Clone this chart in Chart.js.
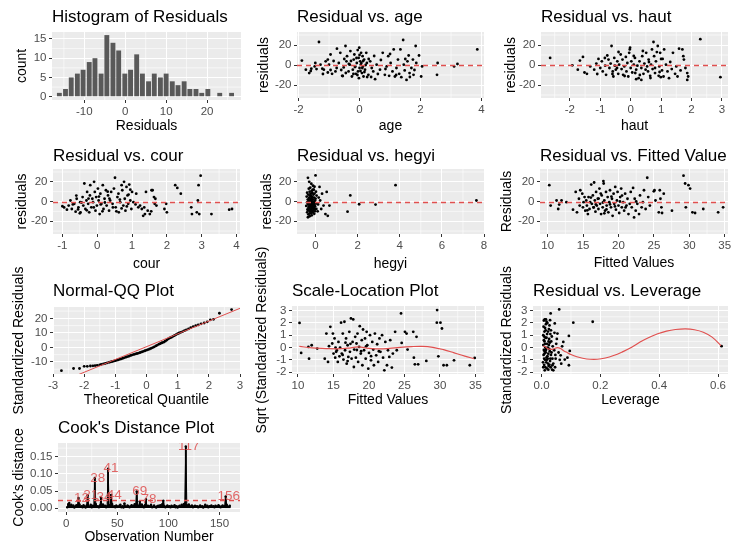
<!DOCTYPE html>
<html>
<head>
<meta charset="utf-8">
<title>Regression diagnostics</title>
<script src="https://cdn.jsdelivr.net/npm/chart.js@4.4.0/dist/chart.umd.min.js"></script>
<style>
  html, body { margin: 0; padding: 0; background: #fff; }
  body { position: relative; width: 732px; height: 546px; overflow: hidden; }
</style>
</head>
<body>
<script>
// ---- data ----------------------------------------------------------------

// Histogram of residuals (30 bins)
const binMids = [-16.1, -14.6, -13.2, -11.7, -10.3, -8.8, -7.4, -5.9, -4.5, -3.0, -1.6, -0.1, 1.3, 2.8, 4.2,
                 5.7, 7.1, 8.6, 10.0, 11.5, 12.9, 14.4, 15.8, 17.3, 18.7, 20.2, 21.6, 23.1, 24.5, 26.0];
const binCounts = [1, 2, 5, 6, 7, 9, 10, 6, 16, 14, 12, 6, 7, 11, 6, 4, 6, 5, 6, 4, 3, 4, 2, 2, 1, 2, 0, 1, 0, 1];

// Residuals against each predictor: [predictor, residual]
const ageResid = [[-1.33,23],[-1.89,4.4],[-1.76,-4.7],[-1.65,-8.1],[-1.58,-3.7],[-1.47,-1.4],[-1.41,-4.1],[-1.28,0.3],
  [-1.22,-3.7],[-1.17,-4.7],[-1.11,3.7],[-1.04,5.4],[-1.0,0.3],[-0.95,10.5],[-1.04,-7.5],[-0.9,-8.8],[-0.79,-6.4],
  [-0.74,16.3],[-0.68,2],[-0.63,12.2],[-0.57,-10.8],[-0.52,-2.4],[-0.46,19],[-0.43,3.7],[-0.41,8.8],[-0.36,-6.4],
  [-0.32,0.3],[-0.3,13.9],[-0.25,-11.5],[-0.22,-4.7],[-0.19,5.4],[-0.17,10.5],[-0.14,-1.4],[-0.12,-8.8],[-0.09,2],
  [-0.06,14.9],[-0.05,-6.4],[-0.03,7.1],[-0.02,-13.2],[-0.01,17.3],[0,-3],[0.02,3.7],[0.04,0.3],[0.05,12.2],
  [0.08,-8.1],[0.1,8.8],[0.11,-1.4],[0.13,-11.5],[0.15,5.4],[0.18,-4.7],[0.22,12.2],[0.24,2],[0.29,-9.8],[0.35,3.7],
  [0.4,-3],[0.45,-6.4],[0.51,-14.2],[0.56,0.3],[0.67,-4.7],[0.76,12.2],[0.83,-9.8],[0.89,-1.4],[0.94,8.8],[0.97,-10.8],
  [1.02,2],[1.08,-6.4],[1.12,15.6],[1.16,-11.5],[1.21,-3],[1.26,5.4],[1.3,-8.8],[1.34,15.6],[1.37,-12.2],[1.43,25],
  [1.45,0.3],[1.48,-5.4],[1.54,-14.9],[1.57,3.7],[1.61,9.5],[1.64,-8.1],[1.7,-3],[1.75,5.4],[1.77,-9.8],[1.84,19],
  [1.86,2],[1.95,9.5],[2.02,-11.5],[2.05,-1.4],[2.56,2],[2.54,-9.8],[3.1,-1.4],[3.21,1],[3.86,15.6],
  [-0.6,-5],[-0.5,6],[-0.45,-8],[-0.35,1],[-0.28,4],[-0.2,-9],[-0.15,-2],[-0.1,7],[-0.07,-10],[0.0,10],[0.03,-6],
  [0.06,2],[0.09,-3],[0.12,4],[0.16,-7],[0.2,0],[0.25,-12],[0.3,6],[-0.55,-11],[-0.75,-3],[-0.85,4],[0.6,-9],[0.7,5],
  [0.85,-4],[1.0,11],[1.2,-10],[1.5,6],[1.65,-12],[1.8,-5],[-1.6,-6],[-1.45,2],[-1.2,-9],[-0.95,-5],[0.48,9],[0.38,-12]];

const hautResid = [[-2.65,7.1],[-1.92,-0.3],[-1.74,-4.7],[-1.67,4.4],[-1.57,8.1],[-1.52,-7.5],[-1.44,-8.8],[-1.33,-1.4],
  [-1.2,-4.7],[-1.13,1.4],[-1.06,6.1],[-1.0,-3],[-0.95,3.7],[-0.92,-6.4],[-0.84,-0.7],[-0.81,-9.8],[-0.77,9.5],
  [-0.73,5.4],[-0.7,-3],[-0.66,1.4],[-0.63,19],[-0.59,-6.4],[-0.57,-11.5],[-0.54,7.1],[-0.52,-0.7],[-0.49,-4.7],
  [-0.44,3.7],[-0.41,-8.8],[-0.38,0.3],[-0.33,10.5],[-0.3,-4.1],[-0.27,5.4],[-0.25,-9.8],[-0.21,-1.4],[-0.16,8.1],
  [-0.14,-6.4],[-0.11,2],[-0.08,-11.5],[-0.05,12.2],[-0.03,15.6],[-0.02,17.3],[0,-3],[0.02,3.7],[0.05,-7.5],[0.1,0.3],
  [0.14,7.1],[0.18,-4.7],[0.22,-0.7],[0.26,-13.2],[0.29,3.7],[0.35,-3],[0.38,8.8],[0.42,-8.8],[0.45,1.4],[0.49,-4.7],
  [0.51,12.2],[0.54,-1.4],[0.57,-6.4],[0.59,5.4],[0.64,-10.8],[0.67,0.3],[0.7,15.6],[0.72,-4.1],[0.75,23],[0.77,8.8],
  [0.8,-8.1],[0.83,3.7],[0.86,12.9],[0.89,19],[0.92,-10.8],[0.94,-1.4],[0.97,12.2],[0.99,-12.2],[1.03,-5.4],[1.05,6.1],
  [1.08,-11.5],[1.1,15.6],[1.16,0.3],[1.21,-6.4],[1.26,-13.2],[1.35,-4.1],[1.39,12.2],[1.46,-8.8],[1.5,-1.4],
  [1.54,-11.5],[1.59,16.3],[1.64,-5.4],[1.7,15.6],[1.73,8.8],[1.75,5.4],[1.8,-3],[1.86,-14.9],[1.89,-11.5],[1.86,-8.1],
  [2.29,25.8],[2.95,-12.2],[0.35,-14.9],[0.18,-14.2],
  [-0.6,-9],[-0.4,13],[-0.2,-11],[0.1,9],[0.3,-10],[0.6,3],[0.8,-3],[1.0,6],[-0.85,7],[-1.1,-9],[0.4,14],[0.65,-13],
  [1.3,3],[0.15,-8],[-0.45,-3],[0.95,-7]];

const courResid = [[-1.0,-4.8],[-0.87,-8.3],[-0.82,-4.1],[-0.77,1],[-0.73,-7.6],[-0.66,-2.4],[-0.62,-10.3],[-0.59,2.8],
  [-0.54,-5.9],[-0.49,-0.7],[-0.48,-11],[-0.42,4.5],[-0.4,-4.1],[-0.37,18.3],[-0.34,-7.6],[-0.31,1],[-0.29,9.7],
  [-0.26,-2.4],[-0.23,-11],[-0.21,6.2],[-0.2,16.6],[-0.17,-5.9],[-0.14,2.8],[-0.12,-0.7],[-0.09,20],[-0.07,9.7],
  [-0.05,-9.3],[-0.03,4.5],[-0.01,-4.1],[0.02,13.1],[0.04,1],[0.07,-12.8],[0.09,7.9],[0.12,-2.4],[0.16,16.6],
  [0.18,-7.6],[0.21,2.8],[0.25,11.4],[0.27,-4.1],[0.31,6.2],[0.34,-9.3],[0.37,1],[0.4,9.7],[0.44,-2.4],[0.48,13.1],
  [0.51,24.1],[0.53,-5.9],[0.58,4.5],[0.61,7.9],[0.62,-11],[0.66,-0.7],[0.7,16.6],[0.72,11.4],[0.75,-4.1],[0.77,20],
  [0.79,2.8],[0.81,-9.3],[0.84,14.8],[0.87,6.2],[0.89,-2.4],[0.92,17.2],[0.95,1],[0.98,-7.6],[1.0,9.7],[1.04,-0.7],
  [1.12,7.9],[1.18,-5.9],[1.23,-4.1],[1.28,-7.6],[1.32,-14.5],[1.37,-12.8],[1.4,9.7],[1.45,-9.3],[1.51,-12.8],
  [1.56,11.4],[1.59,11.4],[1.63,4.5],[1.65,-2.4],[1.67,2.8],[1.7,-4.1],[1.93,-7.6],[2.0,-11],[1.98,-2.4],[2.24,16.6],
  [2.3,13.8],[2.4,7.9],[2.7,-5.9],[2.72,-12.8],[2.86,-11],[2.89,1],[2.91,16.6],[2.93,-12.8],[2.97,26.2],[3.28,-12.8],
  [3.79,-8.3],[3.87,-7.6],
  [-0.95,-6],[-0.7,-3],[-0.55,-8],[-0.45,-1],[-0.25,3],[-0.1,-6],[0.05,5],[0.15,-10],[0.22,-1],[0.35,3],[0.45,-6],
  [0.55,-10],[0.65,2],[0.85,-5],[0.9,7],[-0.6,6],[-0.3,-9],[0.1,-3],[0.3,10],[-0.5,-12],[0.7,-7],[1.1,-3],[1.35,-6],
  [1.55,-10],[0.95,12]];

const hegyiResid = [[-0.36,24],[0.0,26.5],[-0.3,20],[-0.2,18],[-0.12,16],[-0.05,15],[-0.25,14],[-0.32,13],[-0.08,12],
  [-0.18,11],[-0.28,10],[0.02,10],[-0.4,9],[-0.15,9],[-0.22,8],[-0.05,8],[-0.35,7],[-0.1,7],[-0.27,6],[0.05,6],
  [-0.17,5],[-0.42,5],[-0.3,4],[-0.07,4],[-0.22,3],[0.0,3],[-0.37,2],[-0.12,2],[-0.26,1],[-0.02,1],[-0.18,0],[-0.33,0],
  [-0.08,-0.5],[-0.4,-1],[-0.23,-1],[-0.14,-1.5],[0.03,-2],[-0.3,-2],[-0.1,-2.5],[-0.2,-3],[-0.36,-3],[-0.05,-3.5],
  [-0.27,-4],[-0.15,-4],[-0.44,-4.5],[-0.02,-5],[-0.24,-5],[-0.12,-5.5],[-0.33,-6],[-0.19,-6],[-0.06,-6.5],[-0.29,-7],
  [-0.16,-7],[0.04,-7.5],[-0.38,-8],[-0.22,-8],[-0.1,-8.5],[-0.31,-9],[-0.17,-9.5],[-0.03,-10],[-0.26,-10],[-0.4,-11],
  [-0.13,-11],[-0.21,-12],[-0.06,-12.5],[-0.34,-13],[-0.18,-14],[-0.28,-15],[-0.36,-16],
  [0.19,14.8],[0.31,7.9],[0.53,9.7],[0.27,-7.6],[0.38,-4.1],[0.47,-12.8],[0.58,-14.5],[0.66,-4.1],[0.12,-3],[0.15,4],
  [0.1,-10],[0.22,1],
  [-0.25,-2],[-0.2,2],[-0.15,-0.5],[-0.3,-5],[-0.1,-4],[-0.22,5.5],[-0.05,-1],[-0.35,-9],[-0.12,12],[-0.27,-12],
  [-0.08,-7],[-0.18,3.5],[-0.32,2.5],[-0.02,-8],[-0.24,7.5],[-0.15,-10.5],
  [1.52,-10.3],[1.65,6.2],[2.07,-2.8],[2.85,-3.1],[3.8,16.6],[7.64,1]];

const fittedResid = [[10.23,16.6],[10.42,-4.1],[11.26,1],[11.49,-7.6],[11.63,-3.1],[11.96,1],[12.65,-0.7],[13.58,-8.3],
  [13.96,9.7],[14.14,-11],[14.42,2.8],[14.52,-4.1],[14.61,11.4],[14.89,7.9],[14.98,-5.9],[15.07,-0.7],[15.21,4.5],
  [15.31,-9.3],[15.45,1],[15.54,-4.1],[15.68,-12.8],[15.77,4.5],[15.91,-7.6],[16.0,-0.7],[16.15,17.2],[16.24,-2.4],
  [16.38,6.2],[16.47,-5.9],[16.56,19.3],[16.66,1],[16.75,-10.3],[16.84,9.7],[16.94,-4.1],[17.08,2.8],[17.17,-7.6],
  [17.31,13.1],[17.4,-2.4],[17.54,-12.8],[17.63,6.2],[17.77,-5.9],[17.87,20.7],[17.91,18.3],[18.0,1],[18.1,-9.3],
  [18.24,9.7],[18.33,-4.1],[18.47,4.5],[18.57,-11],[18.7,-0.7],[18.8,11.4],[18.94,-5.9],[19.08,2.8],[19.17,-14.5],
  [19.31,7.9],[19.4,-2.4],[19.54,14.8],[19.64,-8.3],[19.78,1],[19.87,9.7],[20.0,-4.1],[20.1,-11.7],[20.24,4.5],
  [20.38,13.1],[20.47,-5.9],[20.66,-0.7],[20.8,-9.3],[20.94,7.9],[21.13,-4.1],[21.27,2.8],[21.41,-12.8],[21.59,-2.4],
  [21.73,9.7],[21.87,-5.9],[22.06,13.8],[22.2,-16.2],[22.29,2.8],[22.43,-9.3],[22.66,-2.4],[22.9,-12.8],[23.04,6.2],
  [23.27,-5.9],[23.45,-0.7],[23.6,11.4],[23.83,-7.6],[24.06,24.1],[24.2,4.5],[24.43,-4.1],[24.99,10.3],[25.08,11.4],
  [25.22,1],[25.69,-11],[25.83,11.4],[25.92,2.8],[26.06,-5.9],[26.15,-11.7],[26.39,7.9],[27.55,-9.3],[29.18,26.2],
  [29.41,18.3],[29.51,-5.9],[29.88,16.6],[30.11,13.1],[30.44,-11],[30.81,-11.7],[31.97,-7.6],[34.07,-11],[34.77,-5.9],
  [16.5,-6],[17.2,3],[17.8,-1],[18.3,-8],[19.0,5],[19.5,-5],[20.2,0],[16.8,-3],[15.6,-9],[17.5,8],[18.8,-3],[21.0,-6],
  [20.5,6],[16.1,4],[22.5,0],[18.0,-12]];

// Normal QQ: [theoretical quantile, residual]
const qqPts = [[-2.73,-16],[-2.34,-14.5],[-2.15,-14.5],[-2.0,-13],[-1.9,-13],[-1.8,-12.8],[-1.72,-12.7],[-1.65,-12.5],
  [-1.58,-12.3],[-1.5,-12],[-1.45,-11.7],[-1.38,-11.3],[-1.32,-11],[-1.26,-10.6],[-1.2,-10.3],[-1.15,-10],[-1.1,-9.7],
  [-1.05,-9.4],[-1.0,-9.1],[-0.95,-8.8],[-0.9,-8.5],[-0.85,-8.1],[-0.8,-7.8],[-0.75,-7.4],[-0.7,-7],[-0.65,-6.6],
  [-0.6,-6.3],[-0.55,-5.9],[-0.5,-5.5],[-0.45,-5.1],[-0.4,-4.8],[-0.35,-4.5],[-0.3,-4.2],[-0.25,-3.9],[-0.2,-3.5],
  [-0.15,-3.1],[-0.1,-2.7],[-0.05,-2.3],[0,-1.9],[0.05,-1.5],[0.1,-1.1],[0.15,-0.6],[0.2,-0.1],[0.25,0.4],[0.3,1],
  [0.35,1.6],[0.4,2.2],[0.45,2.7],[0.5,3.2],[0.55,3.6],[0.6,4.3],[0.65,5.1],[0.7,5.8],[0.75,6.5],[0.8,7],[0.85,7.6],
  [0.9,8.2],[0.95,8.8],[1.0,9.4],[1.05,9.9],[1.1,10.4],[1.16,10.9],[1.22,11.5],[1.28,12.1],[1.35,12.8],[1.42,13.6],
  [1.5,14.3],[1.58,14.9],[1.66,15.5],[1.75,16.2],[1.85,16.8],[1.95,17.6],[2.05,19],[2.15,19.3],[2.34,23.5],[2.73,26]];
const qqLine = [[-3, -25.9], [3, 26.9]];

// Scale-location: [fitted value, transformed standardized residual]
const scaleLoc = [[10.23,2.0],[10.46,-0.44],[11.48,0.05],[11.57,-0.9],[11.94,0.19],[12.72,-0.08],[13.78,-0.9],
  [14.01,1.14],[14.24,-1.17],[14.38,0.11],[14.57,1.69],[14.84,0.33],[14.93,1.14],[15.02,-0.49],[15.16,0.74],
  [15.25,-0.82],[15.39,-0.35],[15.48,-0.22],[15.62,-1.17],[15.71,0.46],[15.85,-0.71],[15.94,0],[16.08,2.02],
  [16.18,-0.49],[16.32,1.14],[16.41,-0.98],[16.55,2.1],[16.64,-0.22],[16.78,0.74],[16.87,-1.31],[17.0,0.19],
  [17.1,-0.76],[17.24,1.28],[17.33,-0.35],[17.47,2.37],[17.56,-0.9],[17.7,0.46],[17.79,2.29],[17.88,-1.58],
  [17.93,-0.16],[18.07,0.87],[18.16,-0.82],[18.25,0.33],[18.39,1.14],[18.48,-1.17],[18.62,0.05],[18.71,1.74],
  [18.85,-0.49],[18.99,0.6],[19.08,-1.44],[19.17,1.47],[19.31,-0.22],[19.45,0.74],[19.54,-0.9],[19.68,1.28],
  [19.77,0.19],[19.91,-1.72],[20.01,-0.44],[20.15,1.01],[20.29,-1.04],[20.47,0.46],[20.61,-0.16],[20.7,-1.44],
  [20.84,1.14],[21.02,-0.63],[21.16,0.27],[21.3,-1.17],[21.48,0.74],[21.62,-0.35],[21.85,1.01],[21.99,-0.82],
  [22.17,-1.85],[22.31,0.46],[22.54,-1.44],[22.68,-0.22],[22.87,-0.76],[23.0,0.6],[23.23,-1.63],[23.37,-0.49],
  [23.69,1.28],[23.92,-0.22],[24.52,2.78],[24.61,0.38],[25.07,1.28],[25.3,1.14],[25.44,-0.16],[26.24,1.28],
  [26.33,-0.82],[26.47,-1.36],[26.7,0.87],[26.93,-1.36],[28.08,-1.09],[29.6,3.05],[29.56,2.02],[30.07,2.02],
  [30.28,1.55],[29.78,-0.71],[30.51,-1.44],[30.97,-1.44],[31.98,-1.04],[34.2,-1.44],[34.89,-0.84],
  [16.3,-0.6],[17.4,0.3],[18.9,-0.3],[19.6,0.1],[20.3,-0.7],[17.0,-1.1],[18.3,-0.2],[21.4,-0.3],[16.7,0.4],[15.3,0.0]];
const scaleLocSmooth = [[10.2,0.1],[12,-0.03],[14,-0.08],[15.5,-0.1],[17,-0.05],[18.5,0.05],[20,-0.06],[22,-0.1],
  [24,0.0],[26,0.08],[27.5,0.1],[29,0.02],[30.5,-0.17],[32,-0.43],[33.5,-0.7],[34.8,-0.9]];

// Residual vs leverage: [leverage, standardized residual]
const leverage = [[0.008,2.2],[0.012,1.6],[0.006,1.0],[0.01,0.5],[0.015,-0.2],[0.007,-0.6],[0.012,-1.0],[0.009,-1.4],
  [0.018,-1.7],[0.011,-1.85],[0.02,2.0],[0.022,1.3],[0.017,0.8],[0.025,0.2],[0.014,-0.4],[0.021,-0.9],[0.016,-1.2],
  [0.024,-1.5],[0.027,1.8],[0.03,1.1],[0.028,0.4],[0.026,-0.1],[0.032,-0.6],[0.029,-1.1],[0.031,-1.6],[0.035,0.9],
  [0.038,0.1],[0.034,-0.4],[0.04,-1.3],[0.036,-1.8],[0.006,0.2],[0.008,-0.2],[0.01,1.3],[0.013,0.0],[0.005,-1.2],
  [0.009,0.9],[0.019,0.3],[0.023,-0.5],[0.011,2.3],[0.015,1.9],[0.017,-0.8],[0.013,-1.6],[0.022,-1.3],[0.007,1.7],
  [0.019,1.1],[0.028,-0.3],[0.026,0.7],[0.033,0.5],[0.012,0.3],[0.016,-0.1],[0.009,-0.9],[0.02,-0.7],[0.024,0.5],
  [0.014,1.4],[0.03,-0.9],[0.006,-1.6],[0.018,-1.0],[0.021,0.0],[0.01,-0.5],[0.025,1.5],[0.008,0.6],[0.011,-0.3],
  [0.027,-1.4],[0.013,0.8],[0.017,2.1],[0.023,-1.8],[0.032,1.4],[0.037,-0.9],
  [0.06,3.1],[0.031,2.78],[0.108,2.02],[0.174,2.1],[0.612,0.11],[0.093,0.95],[0.096,-0.27],[0.088,-0.82],
  [0.093,-1.44],[0.074,0.46],[0.07,0.1],[0.079,-0.98],[0.067,-1.31],[0.065,-0.63],[0.048,-0.9],[0.045,1.96],
  [0.054,1.14],[0.043,-0.22],[0.037,-1.44],[0.04,-1.85],[0.029,2.23],[0.015,2.29],[0.05,0.3],[0.058,-0.4],
  [0.046,-1.6],[0.052,0.7],[0.062,-1.0],[0.044,1.2],[0.047,-0.6]];
const leverageSmooth = [[0.005,0.12],[0.012,0.08],[0.02,-0.07],[0.03,-0.15],[0.04,-0.12],[0.054,0.0],[0.065,-0.08],
  [0.075,-0.25],[0.088,-0.42],[0.1,-0.57],[0.12,-0.75],[0.14,-0.87],[0.165,-0.95],[0.19,-0.95],[0.217,-0.85],
  [0.245,-0.65],[0.275,-0.35],[0.305,0.0],[0.335,0.45],[0.365,0.82],[0.395,1.12],[0.425,1.34],[0.455,1.47],
  [0.49,1.52],[0.52,1.45],[0.55,1.25],[0.58,0.85],[0.61,0.15]];

// Cook's distance per observation (1..160) and the flagged observations
const cookD = [
  .003,.012,.015,.006,.010,.004,.008,.002,.005,.009,
  .007,.030,.011,.004,.006,.003,.009,.005,.002,.008,
  .038,.006,.004,.010,.003,.007,.005,.088,.012,.004,
  .006,.003,.008,.031,.005,.011,.004,.007,.003,.006,
  .115,.009,.005,.039,.012,.004,.006,.003,.008,.005,
  .004,.007,.010,.003,.006,.002,.014,.005,.004,.008,
  .006,.003,.005,.009,.004,.007,.012,.010,.049,.008,
  .005,.020,.004,.011,.006,.003,.009,.026,.005,.007,
  .004,.006,.010,.003,.005,.008,.004,.002,.006,.007,
  .005,.009,.004,.012,.022,.006,.003,.005,.008,.004,
  .006,.003,.007,.005,.004,.009,.003,.006,.002,.005,
  .007,.004,.010,.006,.012,.014,.180,.009,.005,.011,
  .006,.004,.008,.003,.005,.007,.004,.006,.003,.005,
  .008,.004,.006,.002,.005,.010,.004,.007,.003,.006,
  .005,.008,.004,.006,.003,.007,.005,.004,.009,.006,
  .003,.005,.008,.004,.006,.034,.010,.005,.004,.007];
const cookFlagged = [12, 21, 28, 34, 41, 44, 69, 78, 117, 156];
const cookCutoff = 0.025;

// ---- drawing helpers -------------------------------------------------------

const RED = '#E0504F';
const EXT = 40; // canvases reach past their grid cell so long axis titles are not cut
Chart.defaults.font.family = '"Liberation Sans", Arial, sans-serif';

const toXY = pts => pts.map(([x, y]) => ({x, y}));

// grey panel with white minor grid lines (ggplot look)
const panelBg = {
  id: 'panelBg',
  beforeDraw(chart) {
    const {ctx, chartArea: a} = chart;
    ctx.save();
    ctx.fillStyle = '#EBEBEB';
    ctx.fillRect(a.left, a.top, a.width, a.height);
    ctx.strokeStyle = '#FFFFFF';
    ctx.lineWidth = 0.6;
    for (const id of ['x', 'y']) {
      const s = chart.scales[id];
      const vals = s.ticks.map(t => t.value);
      const step = vals[1] - vals[0];
      const minors = [vals[0] - step / 2].concat(vals.map(v => v + step / 2));
      for (const m of minors) {
        if (m <= s.min || m >= s.max) continue;
        const p = s.getPixelForValue(m);
        ctx.beginPath();
        if (id === 'x') { ctx.moveTo(p, a.top); ctx.lineTo(p, a.bottom); }
        else { ctx.moveTo(a.left, p); ctx.lineTo(a.right, p); }
        ctx.stroke();
      }
    }
    ctx.restore();
  }
};

// rotated y title, drawn by hand so long titles are not squeezed to the panel height
const yTitle = {
  id: 'ytitle',
  afterDraw(chart, args, o) {
    const {ctx, chartArea: a} = chart;
    ctx.save();
    ctx.translate(o.x, (a.top + a.bottom) / 2);
    ctx.rotate(-Math.PI / 2);
    ctx.font = '14px "Liberation Sans", Arial, sans-serif';
    ctx.fillStyle = '#000';
    ctx.textAlign = 'center';
    ctx.textBaseline = 'middle';
    ctx.fillText(o.text, 0, 0);
    ctx.restore();
  }
};

// dashed red reference line, snapped to the pixel grid so it stays crisp
const hline = {
  id: 'hline',
  afterDatasetsDraw(chart, args, o) {
    if (o.value === undefined) return;
    const {ctx, chartArea: a} = chart;
    const py = Math.round(chart.scales.y.getPixelForValue(o.value)) + 0.5;
    ctx.save();
    ctx.strokeStyle = RED;
    ctx.lineWidth = 1.3;
    ctx.setLineDash([5, 4]);
    ctx.beginPath();
    ctx.moveTo(a.left, py);
    ctx.lineTo(a.right, py);
    ctx.stroke();
    ctx.restore();
  }
};

// observation numbers next to the large Cook's distances
const cookLabels = {
  id: 'cookLabels',
  afterDatasetsDraw(chart) {
    const {ctx, chartArea: a, scales: {x, y}} = chart;
    ctx.save();
    ctx.beginPath();
    ctx.rect(a.left, a.top, a.width, a.height);
    ctx.clip();
    ctx.font = '13.5px "Liberation Sans", Arial, sans-serif';
    ctx.fillStyle = 'rgba(222, 80, 80, 0.85)';
    ctx.textAlign = 'center';
    ctx.textBaseline = 'middle';
    for (const n of cookFlagged) {
      ctx.fillText(String(n), x.getPixelForValue(n) + 3, y.getPixelForValue(cookD[n - 1]));
    }
    ctx.restore();
  }
};

function axis(dir, sc, size, title, titlePad) {
  return {
    type: 'linear',
    min: sc.min,
    max: sc.max,
    offset: false,
    border: {display: false},
    grid: {color: '#FFFFFF', lineWidth: 1, drawTicks: true, tickLength: 3, tickColor: '#333333', tickWidth: 1, offset: false},
    ticks: {
      color: '#4D4D4D',
      font: {size: 11.5},
      padding: dir === 'x' ? 1.5 : 2.5,
      autoSkip: false,
      maxRotation: 0,
      callback: v => sc.fmt ? sc.fmt(v) : String(v)
    },
    title: title ? {display: true, text: title, color: '#000', font: {size: 14}, padding: {top: 0, bottom: titlePad}} : {display: false},
    afterBuildTicks: s => { s.ticks = sc.ticks.map(v => ({value: v})); },
    afterFit: s => {
      if (dir === 'x') s.height = size; else s.width = size;
      s.paddingLeft = s.paddingRight = s.paddingTop = s.paddingBottom = 0;
    }
  };
}

// cell = grid cell [l, t, r, b]; box = grey panel [l, t, r, b], both in page pixels
function panel(cfg) {
  const [cl, ct, cr, cb] = cfg.cell;
  const [bl, bt, br, bb] = cfg.box;
  const w = cr - cl, h = cb - ct + 2 * EXT;
  const cv = document.createElement('canvas');
  cv.width = w;
  cv.height = h;
  cv.style.cssText = `position:absolute;left:${cl}px;top:${ct - EXT}px;width:${w}px;height:${h}px`;
  document.body.appendChild(cv);

  const padTop = cfg.titleY - ct - 10.2;
  const padBottom = bt - ct - padTop - 20.4;

  new Chart(cv.getContext('2d'), {
    type: cfg.type || 'scatter',
    data: {datasets: cfg.datasets},
    options: {
      responsive: false,
      animation: false,
      events: [],
      layout: {padding: {top: EXT, bottom: EXT, left: 0, right: cr - br}},
      plugins: {
        legend: {display: false},
        tooltip: {enabled: false},
        title: {
          display: true, text: cfg.title, align: 'start', fullSize: false, color: '#000',
          font: {size: 17, weight: 'normal'}, padding: {top: padTop, bottom: padBottom}
        },
        ytitle: {text: cfg.yTitle, x: cfg.yTitleX - cl},
        hline: cfg.hline || {}
      },
      scales: {
        x: axis('x', cfg.x, cb - bb, cfg.xTitle, cb - cfg.xTitleY - 8.4),
        y: axis('y', cfg.y, bl - cl)
      }
    },
    plugins: [panelBg, yTitle, hline].concat(cfg.plugins || [])
  });
}

const dots = pts => ({data: toXY(pts), pointRadius: 1.4, pointBackgroundColor: '#000', pointBorderWidth: 0, borderWidth: 0});
const curve = pts => ({data: toXY(pts), showLine: true, tension: 0.4, borderColor: RED, borderWidth: 1.2, pointRadius: 0, fill: false});
const residY = {min: -33, max: 33, ticks: [-20, 0, 20]};
const stdY = {min: -2.15, max: 3.38, ticks: [-2, -1, 0, 1, 2, 3]};

// ---- row 1 -----------------------------------------------------------------

panel({
  type: 'bar',
  cell: [0, 0, 244, 136], box: [52, 32, 241, 100], titleY: 17, yTitleX: 22, xTitleY: 126,
  title: 'Histogram of Residuals', xTitle: 'Residuals', yTitle: 'count',
  x: {min: -17.9, max: 28.3, ticks: [-10, 0, 10, 20]},
  y: {min: -0.85, max: 16.8, ticks: [0, 5, 10, 15]},
  datasets: [{
    data: binMids.map((x, i) => ({x, y: binCounts[i]})),
    backgroundColor: '#595959', barPercentage: 0.85, categoryPercentage: 1
  }]
});

panel({
  cell: [244, 0, 488, 136], box: [297, 32, 487, 98], titleY: 17, yTitleX: 264, xTitleY: 126,
  title: 'Residual vs. age', xTitle: 'age', yTitle: 'residuals',
  x: {min: -2.05, max: 4.08, ticks: [-2, 0, 2, 4]}, y: residY,
  hline: {value: 0},
  datasets: [dots(ageResid)]
});

panel({
  cell: [488, 0, 732, 136], box: [541, 32, 730, 98], titleY: 17, yTitleX: 511, xTitleY: 126,
  title: 'Residual vs. haut', xTitle: 'haut', yTitle: 'residuals',
  x: {min: -2.95, max: 3.2, ticks: [-2, -1, 0, 1, 2, 3]}, y: residY,
  hline: {value: 0},
  datasets: [dots(hautResid)]
});

// ---- row 2 -----------------------------------------------------------------

panel({
  cell: [0, 136, 244, 273], box: [53, 169, 243, 234], titleY: 156, yTitleX: 22, xTitleY: 264,
  title: 'Residual vs. cour', xTitle: 'cour', yTitle: 'residuals',
  x: {min: -1.27, max: 4.1, ticks: [-1, 0, 1, 2, 3, 4]}, y: residY,
  hline: {value: 0},
  datasets: [dots(courResid)]
});

panel({
  cell: [244, 136, 488, 273], box: [297, 169, 487, 234], titleY: 156, yTitleX: 267, xTitleY: 264,
  title: 'Residual vs. hegyi', xTitle: 'hegyi', yTitle: 'residuals',
  x: {min: -0.88, max: 8.0, ticks: [0, 2, 4, 6, 8]}, y: residY,
  hline: {value: 0},
  datasets: [dots(hegyiResid)]
});

panel({
  cell: [488, 136, 732, 273], box: [540, 169, 730, 234], titleY: 156, yTitleX: 507, xTitleY: 263,
  title: 'Residual vs. Fitted Value', xTitle: 'Fitted Values', yTitle: 'Residuals',
  x: {min: 8.92, max: 35.46, ticks: [10, 15, 20, 25, 30, 35]}, y: residY,
  hline: {value: 0},
  datasets: [dots(fittedResid)]
});

// ---- row 3 -----------------------------------------------------------------

panel({
  cell: [0, 273, 244, 409], box: [53, 307, 243, 374], titleY: 291, yTitleX: 19, xTitleY: 400,
  title: 'Normal-QQ Plot', xTitle: 'Theoretical Quantile', yTitle: 'Standardized Residuals',
  x: {min: -3.0, max: 3.0, ticks: [-3, -2, -1, 0, 1, 2, 3]},
  y: {min: -18.3, max: 27.8, ticks: [-10, 0, 10, 20]},
  datasets: [Object.assign(curve(qqLine), {tension: 0, borderWidth: 1}), dots(qqPts)]
});

panel({
  cell: [244, 273, 488, 409], box: [292, 306, 487, 374], titleY: 291, yTitleX: 262, xTitleY: 400,
  title: 'Scale-Location Plot', xTitle: 'Fitted Values', yTitle: 'Sqrt (Standardized Residuals)',
  x: {min: 9.17, max: 36.2, ticks: [10, 15, 20, 25, 30, 35]}, y: stdY,
  datasets: [curve(scaleLocSmooth), dots(scaleLoc)]
});

panel({
  cell: [488, 273, 732, 409], box: [533, 306, 730, 374], titleY: 291, yTitleX: 507, xTitleY: 400,
  title: 'Residual vs. Leverage', xTitle: 'Leverage', yTitle: 'Standardized Residuals',
  x: {min: -0.029, max: 0.634, ticks: [0, 0.2, 0.4, 0.6], fmt: v => v.toFixed(1)}, y: stdY,
  datasets: [curve(leverageSmooth), dots(leverage)]
});

// ---- row 4 -----------------------------------------------------------------

const cookXY = cookD.map((d, i) => ({x: i + 1, y: d}));
panel({
  cell: [0, 409, 244, 546], box: [58, 443, 243, 512], titleY: 428.5, yTitleX: 19, xTitleY: 537.5,
  title: "Cook's Distance Plot", xTitle: 'Observation Number', yTitle: "Cook's distance",
  x: {min: -8, max: 170, ticks: [0, 50, 100, 150]},
  y: {min: -0.011, max: 0.19, ticks: [0, 0.05, 0.1, 0.15], fmt: v => v.toFixed(2)},
  hline: {value: cookCutoff},
  plugins: [cookLabels],
  datasets: [
    {data: cookXY, showLine: true, borderColor: '#000', borderWidth: 1, pointRadius: 1.2,
     pointBackgroundColor: '#000', pointBorderWidth: 0, order: 1},
    {type: 'bar', data: cookXY, backgroundColor: '#000', barThickness: 1.2, order: 2}
  ]
});
</script>
</body>
</html>
